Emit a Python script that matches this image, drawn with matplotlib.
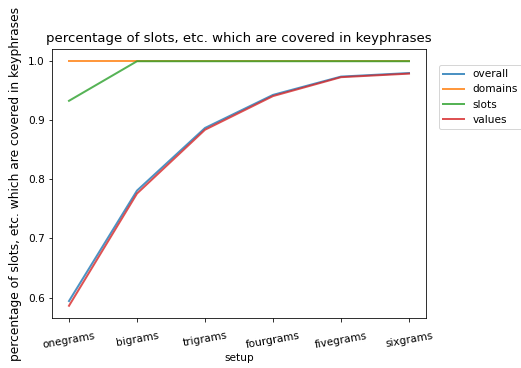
import matplotlib
matplotlib.use("Agg")
import matplotlib.pyplot as plt

setups = ["onegrams", "bigrams", "trigrams", "fourgrams", "fivegrams", "sixgrams"]
overall = [0.594, 0.781, 0.887, 0.943, 0.974, 0.980]
domains = [1.0, 1.0, 1.0, 1.0, 1.0, 1.0]
slots = [0.933, 1.0, 1.0, 1.0, 1.0, 1.0]
values = [0.586, 0.776, 0.884, 0.941, 0.973, 0.979]

fig = plt.figure(figsize=(521/72, 368/72), dpi=72)
ax = fig.add_axes([52/521, 1-318/368, (426-52)/521, (318-49)/368])
x = list(range(len(setups)))
for name, data in [("overall", overall), ("domains", domains), ("slots", slots), ("values", values)]:
    ax.plot(x, data, label=name, alpha=0.8, linewidth=2)
ax.set_xticks(x)
ax.set_xticklabels(setups, rotation=10, fontsize=10.5)
ax.set_yticks([0.6, 0.7, 0.8, 0.9, 1.0])
ax.tick_params(axis="y", labelsize=10.5)
ax.tick_params(axis="x", pad=9)
ax.set_xlabel("setup", fontsize=10.5, labelpad=3)
ax.set_ylabel("percentage of slots, etc. which are covered in keyphrases", fontsize=12.3, labelpad=6)
ax.set_title("percentage of slots, etc. which are covered in keyphrases", fontsize=13.3, pad=7)
ax.legend(loc="upper left", bbox_to_anchor=(1.02, 0.96), fontsize=10.5)
fig.savefig("out.png", dpi=72)
